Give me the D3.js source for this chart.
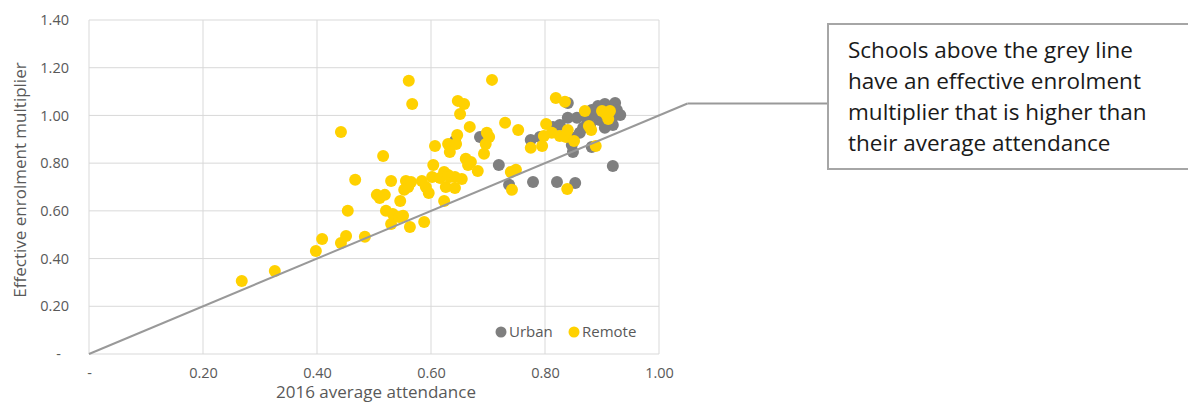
<!DOCTYPE html>
<html>
<head>
<meta charset="utf-8">
<script src="https://cdn.jsdelivr.net/npm/d3@7"></script>
<style>
    body { margin: 0; background: #fff; }
    svg text { font-family: "Open Sans", sans-serif; fill: #595959; }
</style>
</head>
<body>
<svg id="chart" width="1188" height="403"></svg>
<script>
// attendance (x) and effective enrolment multiplier (y)
const urbanX = [0.642, 0.686, 0.719, 0.737, 0.775, 0.791, 0.779, 0.814, 0.821, 0.853, 0.919,
    0.840, 0.840, 0.856, 0.870, 0.882, 0.893, 0.905, 0.923, 0.926, 0.932, 0.919, 0.896, 0.879,
    0.867, 0.849, 0.847, 0.849, 0.861, 0.882, 0.905, 0.918, 0.826, 0.874, 0.888];
const urbanY = [0.893, 0.910, 0.792, 0.709, 0.897, 0.910, 0.721, 0.952, 0.721, 0.717, 0.788,
    1.052, 0.990, 0.990, 1.002, 1.023, 1.040, 1.048, 1.052, 1.023, 1.002, 0.960, 0.981, 0.960,
    0.948, 0.906, 0.876, 0.847, 0.927, 0.868, 0.948, 0.990, 0.960, 0.981, 1.002];

const remoteX = [0.268, 0.326, 0.398, 0.409, 0.442, 0.451, 0.454, 0.467, 0.442, 0.484, 0.505,
    0.516, 0.510, 0.519, 0.521, 0.530, 0.533, 0.530, 0.544, 0.546, 0.551, 0.553, 0.556, 0.561,
    0.567, 0.560, 0.565, 0.563, 0.588, 0.584, 0.591, 0.596, 0.602, 0.604, 0.607, 0.616, 0.626,
    0.623, 0.630, 0.630, 0.633, 0.633, 0.623, 0.642, 0.642, 0.644, 0.646, 0.651, 0.647, 0.658,
    0.654, 0.661, 0.665, 0.670, 0.668, 0.682, 0.693, 0.696, 0.698, 0.702, 0.707, 0.730, 0.740,
    0.742, 0.749, 0.753, 0.775, 0.795, 0.798, 0.802, 0.812, 0.819, 0.835, 0.826, 0.837, 0.840,
    0.839, 0.851, 0.870, 0.877, 0.881, 0.889, 0.900, 0.907, 0.911, 0.914];
const remoteY = [0.306, 0.348, 0.432, 0.482, 0.465, 0.495, 0.600, 0.730, 0.931, 0.491, 0.667,
    0.830, 0.654, 0.667, 0.600, 0.725, 0.587, 0.545, 0.574, 0.641, 0.579, 0.688, 0.725, 1.145,
    1.048, 0.700, 0.721, 0.532, 0.553, 0.725, 0.700, 0.675, 0.742, 0.792, 0.872, 0.738, 0.700,
    0.763, 0.750, 0.880, 0.847, 0.742, 0.641, 0.696, 0.742, 0.880, 0.918, 1.006, 1.061, 1.048,
    0.734, 0.818, 0.792, 0.805, 0.952, 0.767, 0.839, 0.880, 0.927, 0.910, 1.149, 0.969, 0.763,
    0.688, 0.772, 0.939, 0.864, 0.872, 0.914, 0.964, 0.927, 1.073, 1.057, 0.914, 0.910, 0.939,
    0.692, 0.893, 1.019, 0.956, 0.939, 0.872, 1.019, 1.006, 0.985, 1.019];

const xTicks = [0, 0.2, 0.4, 0.6, 0.8, 1.0];
const yTicks = [0, 0.2, 0.4, 0.6, 0.8, 1.0, 1.2, 1.4];
const seriesNames = ["Urban", "Remote"];
const seriesColors = ["#7f7f7f", "#ffd100"];
const parityLine = [0, 1.05];
const noteLines = ["Schools above the grey line", "have an effective enrolment",
    "multiplier that is higher than", "their average attendance"];

const svg = d3.select("#chart");
const x = d3.scaleLinear().domain([0, 1]).range([89, 659]);
const y = d3.scaleLinear().domain([0, 1.4]).range([354, 20]);
const fmt = v => v === 0 ? "-" : d3.format(".2f")(v);

// gridlines
svg.append("g").selectAll("line").data(xTicks).enter().append("line")
    .attr("x1", d => x(d)).attr("x2", d => x(d)).attr("y1", y(0)).attr("y2", y(1.4))
    .attr("stroke", "#d9d9d9").attr("stroke-width", 1);
svg.append("g").selectAll("line").data(yTicks).enter().append("line")
    .attr("x1", x(0)).attr("x2", x(1)).attr("y1", d => y(d)).attr("y2", d => y(d))
    .attr("stroke", "#d9d9d9").attr("stroke-width", 1);

// axes (labels only)
let xAxis = svg.append("g").attr("transform", `translate(0,${y(0) + 8})`)
    .call(d3.axisBottom(x).tickValues(xTicks).tickFormat(fmt).tickSize(0).tickPadding(6));
xAxis.select(".domain").remove();
xAxis.selectAll("text").style("font-size", "14.5px").attr("fill", "#595959");

let yAxis = svg.append("g").attr("transform", `translate(${x(0) - 20},0)`)
    .call(d3.axisLeft(y).tickValues(yTicks).tickFormat(fmt).tickSize(0).tickPadding(0));
yAxis.select(".domain").remove();
yAxis.selectAll("text").style("font-size", "14.5px").attr("fill", "#595959")
    .attr("dx", d => d === 0 ? -8 : 0);

svg.append("text").attr("x", 376).attr("y", 398).attr("text-anchor", "middle")
    .style("font-size", "17px").text("2016 average attendance");
svg.append("text").attr("transform", `translate(26,${180}) rotate(-90)`)
    .attr("text-anchor", "middle").style("font-size", "17px").text("Effective enrolment multiplier");

// points
svg.append("g").selectAll("circle").data(urbanX).enter().append("circle")
    .attr("cx", d => x(d)).attr("cy", (d, i) => y(urbanY[i])).attr("r", 6)
    .attr("fill", seriesColors[0]);
svg.append("g").selectAll("circle").data(remoteX).enter().append("circle")
    .attr("cx", d => x(d)).attr("cy", (d, i) => y(remoteY[i])).attr("r", 6)
    .attr("fill", seriesColors[1]);

// y = x line and call-out
svg.append("line")
    .attr("x1", x(parityLine[0])).attr("y1", y(parityLine[0]))
    .attr("x2", x(parityLine[1])).attr("y2", y(parityLine[1]))
    .attr("stroke", "#999").attr("stroke-width", 2);
svg.append("line")
    .attr("x1", x(parityLine[1])).attr("y1", y(parityLine[1]))
    .attr("x2", 828).attr("y2", y(parityLine[1]))
    .attr("stroke", "#999").attr("stroke-width", 2);

svg.append("rect").attr("x", 828).attr("y", 24).attr("width", 380).attr("height", 145)
    .attr("fill", "#fff").attr("stroke", "#a6a6a6").attr("stroke-width", 2);
svg.append("g").selectAll("text").data(noteLines).enter().append("text")
    .attr("x", 848).attr("y", (d, i) => 58 + i * 31)
    .style("font-size", "22.5px").style("fill", "#1a1a1a")
    .text(d => d);

// legend
let legend = svg.append("g").selectAll("g").data(seriesNames).enter().append("g")
    .attr("transform", (d, i) => `translate(${i === 0 ? 501 : 574},332)`);
legend.append("circle").attr("r", 5.5).attr("fill", (d, i) => seriesColors[i]);
legend.append("text").attr("x", 8).attr("dy", "0.35em").style("font-size", "15px").text(d => d);
</script>
</body>
</html>
